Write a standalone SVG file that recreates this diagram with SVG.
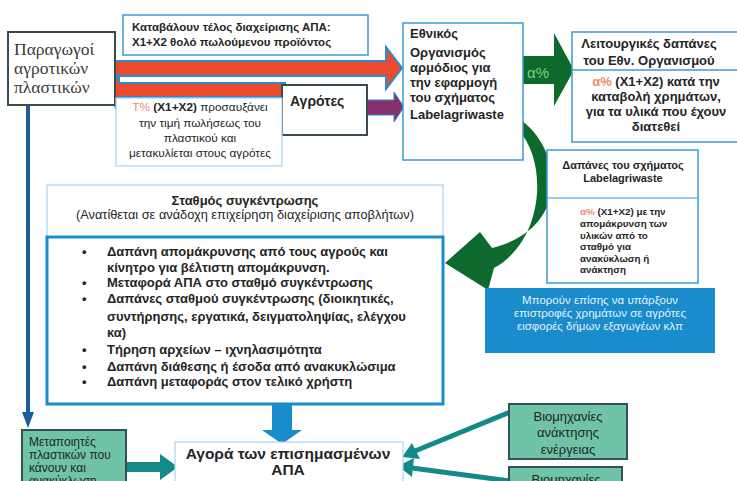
<svg xmlns="http://www.w3.org/2000/svg" width="737" height="481" viewBox="0 0 737 481">
<style>
text{font-family:"Liberation Sans",Arial,sans-serif;fill:#252525}
.serif{font-family:"Liberation Serif","Times New Roman",serif;fill:#3a3a3a}
.b{font-weight:bold}
.c{text-anchor:middle}
.lb{fill:#fff;stroke:#3a9ad8;stroke-width:1.5}
.lt{fill:#fff;stroke:#a9d3f2;stroke-width:1.2}
.dk{fill:#fff;stroke:#3a4a55;stroke-width:2}
.teal{fill:#6fc3a6;stroke:#34505a;stroke-width:2}
.red{fill:#ec4a2c;stroke:#2a8ad0;stroke-width:2}
.pink{fill:#f28a72}
.w{fill:#e4f2fc}
</style>
<rect width="737" height="481" fill="#fff"/>

<g id="connectors">
  <polygon class="red" points="110,61 386,61 386,47 402,68 386,89 386,76 110,76"/>
  <polygon class="red" points="285,83 119,83 119,75 108,90 119,115 119,97 285,97"/>
  <polygon fill="#86306e" stroke="#2a8ad0" stroke-width="1" points="366,100 394,100 394,92 404,107 394,122 394,115 366,115"/>
  <polygon fill="#0d6a2c" points="522,56 554,56 554,33 574,70 554,106 554,84 522,84"/>
  <path fill="#0d6a2c" d="M521,120 C562,150 572,228 492,248 L480,232 L445,263 L488,290 L494,268 C545,240 548,160 518,130 Z"/>
  <line x1="28" y1="106" x2="28" y2="414" stroke="#1a5c9c" stroke-width="4"/>
  <polygon fill="#1a5c9c" points="22,412 34,412 28,428"/>
  <polygon fill="#1a8ccc" points="272,392 292,392 292,430 302,430 282,444 262,430 272,430"/>
  <polygon fill="#138a8a" points="126,462 160,462 160,454 178,467 160,480 160,472 126,472"/>
  <line x1="510" y1="412" x2="415" y2="451" stroke="#138a8a" stroke-width="5"/>
  <polygon fill="#138a8a" points="402,457 412,443 420,459"/>
  <line x1="510" y1="481" x2="412" y2="468" stroke="#138a8a" stroke-width="5"/>
  <polygon fill="#138a8a" points="398,466 414,458 412,477"/>
</g>

<g id="producers">
  <rect class="dk" x="8" y="32" width="107" height="73" stroke-width="2.5"/>
  <text class="serif" font-size="17.5" x="14" y="55">Παραγωγοί</text>
  <text class="serif" font-size="17.5" x="14" y="74">αγροτικών</text>
  <text class="serif" font-size="17.5" x="14" y="93">πλαστικών</text>
</g>

<g id="fee">
  <rect class="lb" x="123" y="15" width="245" height="40"/>
  <text class="b" font-size="11.5" x="132" y="31">Καταβάλουν τέλος διαχείρισης  ΑΠΑ:</text>
  <text class="b" font-size="11.5" x="132" y="46">X1+X2 θολό πωλούμενου προϊόντος</text>
</g>

<g id="farmers">
  <rect class="dk" x="282" y="85" width="85" height="50"/>
  <text class="b" font-size="14" x="290" y="106">Αγρότες</text>
</g>

<g id="price">
  <rect class="lt" x="116" y="98" width="166" height="68"/>
  <text font-size="11.8" class="c" x="200" y="111"><tspan class="pink">Τ%</tspan> <tspan class="b">(X1+X2)</tspan> προσαυξάνει</text>
  <text font-size="11.8" class="c" x="200" y="127">την τιμή πωλήσεως του</text>
  <text font-size="11.8" class="c" x="200" y="142">πλαστικού και</text>
  <text font-size="11.8" class="c" x="200" y="157">μετακυλίεται στους αγρότες</text>
</g>

<g id="national">
  <rect class="lb" x="403" y="23" width="120" height="137"/>
  <text class="b" font-size="13" x="410" y="38">Εθνικός</text>
  <text class="b" font-size="13" x="410" y="57">Οργανισμός</text>
  <text class="b" font-size="13" x="410" y="72">αρμόδιος για</text>
  <text class="b" font-size="13" x="410" y="87">την εφαρμογή</text>
  <text class="b" font-size="13" x="410" y="102">του σχήματος</text>
  <text class="b" font-size="13" x="410" y="119">Labelagriwaste</text>
</g>
<text font-size="15" x="527" y="78" style="fill:#74d47e">α%</text>

<g id="operating">
  <rect class="lb" x="572" y="32" width="170" height="110"/>
  <line x1="572" y1="70" x2="737" y2="70" stroke="#3a9ad8" stroke-width="1.5"/>
  <text class="b c" font-size="13" x="649" y="48">Λειτουργικές δαπάνες</text>
  <text class="b c" font-size="13" x="649" y="65">του Εθν. Οργανισμού</text>
  <text class="b c" font-size="13" x="656" y="86"><tspan class="pink">α%</tspan> (X1+X2) κατά την</text>
  <text class="b c" font-size="13" x="656" y="101">καταβολή χρημάτων,</text>
  <text class="b c" font-size="13" x="656" y="116">για τα υλικά που έχουν</text>
  <text class="b c" font-size="13" x="656" y="131">διατεθεί</text>
</g>

<g id="scheme">
  <rect class="lb" x="547" y="150" width="151" height="133" stroke-width="1.2"/>
  <line x1="547" y1="198" x2="698" y2="198" stroke="#3a9ad8" stroke-width="1.2"/>
  <text class="b c" font-size="11" x="623" y="169">Δαπάνες του σχήματος</text>
  <text class="b c" font-size="11" x="623" y="182">Labelagriwaste</text>
  <g font-size="9.8" class="b">
  <text x="580" y="215"><tspan class="pink">α%</tspan>  (X1+X2) με την</text>
  <text x="580" y="227">απομάκρυνση των</text>
  <text x="580" y="239">υλικών από το</text>
  <text x="580" y="250">σταθμό για</text>
  <text x="580" y="262">ανακύκλωση ή</text>
  <text x="580" y="273">ανάκτηση</text>
  </g>
</g>

<g id="returns">
  <rect x="485" y="288" width="230" height="65" fill="#1a8ccc"/>
  <text class="c w" font-size="11.5" x="600" y="304">Μπορούν επίσης να υπάρξουν</text>
  <text class="c w" font-size="11.5" x="600" y="317">επιστροφές χρημάτων σε αγρότες</text>
  <text class="c w" font-size="11.5" x="600" y="330">εισφορές δήμων  εξαγωγέων κλπ</text>
</g>

<g id="station">
  <rect class="lt" x="47" y="185" width="396" height="52"/>
  <text class="b c" font-size="13" x="245" y="205">Σταθμός συγκέντρωσης</text>
  <text class="c" font-size="12.8" x="245" y="219">(Ανατίθεται σε ανάδοχη επιχείρηση διαχείρισης αποβλήτων)</text>
  <rect fill="#fff" stroke="#1a8ccc" stroke-width="3" x="47" y="237" width="396" height="167"/>
  <g font-size="13" class="b">
    <text x="82" y="256">•</text><text x="107" y="256">Δαπάνη απομάκρυνσης από τους αγρούς και</text>
    <text x="107" y="272">κίνητρο για βέλτιστη απομάκρυνση.</text>
    <text x="82" y="287">•</text><text x="107" y="287">Μεταφορά ΑΠΑ στο σταθμό συγκέντρωσης</text>
    <text x="82" y="303">•</text><text x="107" y="303">Δαπάνες σταθμού συγκέντρωσης (διοικητικές,</text>
    <text x="107" y="321">συντήρησης, εργατικά, δειγματοληψίας, ελέγχου</text>
    <text x="107" y="337">κα)</text>
    <text x="82" y="354">•</text><text x="107" y="354">Τήρηση αρχείων – ιχνηλασιμότητα</text>
    <text x="82" y="371">•</text><text x="107" y="371">Δαπάνη διάθεσης ή έσοδα από ανακυκλώσιμα</text>
    <text x="82" y="386">•</text><text x="107" y="386">Δαπάνη μεταφοράς στον τελικό χρήστη</text>
  </g>
</g>

<g id="market">
  <rect class="lt" x="175" y="442" width="228" height="50"/>
  <text class="b c" font-size="15.5" x="288" y="459">Αγορά των επισημασμένων</text>
  <text class="b c" font-size="15.5" x="288" y="475">ΑΠΑ</text>
</g>

<g id="processors">
  <rect class="teal" x="22" y="430" width="104" height="60" stroke="none"/>
  <text font-size="12" x="29" y="446">Μεταποιητές</text>
  <text font-size="12" x="29" y="459">πλαστικών που</text>
  <text font-size="12" x="29" y="472">κάνουν και</text>
  <text font-size="12" x="29" y="485">ανακύκλωση</text>
</g>

<g id="energy">
  <rect class="teal" x="509" y="404" width="118" height="55"/>
  <text class="c" font-size="13" x="568" y="421">Βιομηχανίες</text>
  <text class="c" font-size="13" x="568" y="437">ανάκτησης</text>
  <text class="c" font-size="13" x="568" y="454">ενέργειας</text>
</g>

<g id="industries2">
  <rect class="teal" x="509" y="467" width="113" height="30" stroke="none"/>
  <text class="c" font-size="13" x="566" y="484">Βιομηχανίες</text>
</g>
</svg>
